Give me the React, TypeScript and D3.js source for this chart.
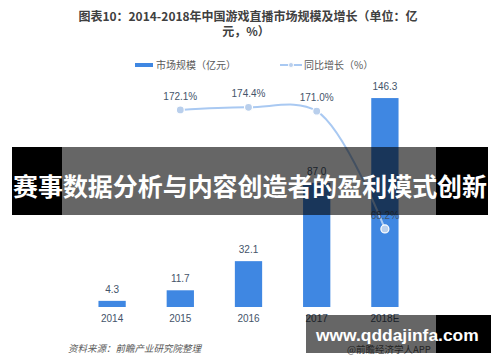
import React from "react";
import * as d3 from "d3";

const years = ["2014", "2015", "2016", "2017", "2018E"];
const marketSize = [4.3, 11.7, 32.1, 87.0, 146.3];
const growthYears = ["2015", "2016", "2017", "2018E"];
const growthRate = [172.1, 174.4, 171.0, 68.2];

const width = 500;
const height = 362;
const cjk = "'Noto Sans CJK SC', 'Noto Sans', sans-serif";

export default function App() {
  const x = d3.scaleBand().domain(years).range([78, 419]).paddingInner(0.6).paddingOuter(0.3);
  const y = d3.scaleLinear().domain([0, 160]).range([307, 78.5]);
  const yRate = d3.scaleLinear().domain([0, 200]).range([307, 78]);
  const cx = (d: string) => (x(d) ?? 0) + x.bandwidth() / 2;

  const pts = growthYears.map((d, i) => ({ year: d, v: growthRate[i] }));
  const line = d3
    .line<{ year: string; v: number }>()
    .x((d) => cx(d.year))
    .y((d) => yRate(d.v))
    .curve(d3.curveCatmullRom.alpha(0.5));

  return (
    <svg
      width={width}
      height={height}
      style={{ position: "absolute", left: 0, top: 0, background: "#fff" }}
    >
      <rect width={width} height={height} fill="#fff" />
      {/* title */}
      <g fontFamily={cjk} fontWeight="bold" fontSize="12" fill="#404040" textAnchor="middle">
        <text x={248} y={21}>图表10：2014-2018年中国游戏直播市场规模及增长（单位：亿</text>
        <text x={246} y={36}>元，%）</text>
      </g>

      {/* legend */}
      <g fontFamily={cjk} fontSize="10" fill="#595959">
        <rect x={135} y={63} width={18} height={4} fill="#3f87e2" />
        <text x={156} y={69}>市场规模（亿元）</text>
        <line x1={280} x2={302} y1={65} y2={65} stroke="#a9c9f2" strokeWidth={2} />
        <circle cx={291} cy={65} r={2.5} fill="#b9cfec" stroke="#fff" strokeWidth={1} />
        <text x={304} y={69}>同比增长（%）</text>
      </g>

      {/* bars */}
      <g fill="#3f87e2">
        {years.map((d, i) => (
          <rect
            key={d}
            x={x(d)}
            y={y(marketSize[i])}
            width={x.bandwidth()}
            height={y(0) - y(marketSize[i])}
          />
        ))}
      </g>
      <g fontFamily="'Liberation Sans', Arial, sans-serif" fontSize="10" fill="#44546a" textAnchor="middle">
        {years.map((d, i) => (
          <text key={d} x={cx(d)} y={y(marketSize[i]) - 8}>
            {marketSize[i].toFixed(1)}
          </text>
        ))}
        {years.map((d) => (
          <text key={"l" + d} x={cx(d)} y={322}>
            {d}
          </text>
        ))}
      </g>

      {/* growth line */}
      <path d={line(pts) ?? ""} fill="none" stroke="#a9c9f2" strokeWidth={2} />
      <g fill="#b9cfec" stroke="#fff" strokeWidth={1.2}>
        {pts.map((p) => (
          <circle key={p.year} cx={cx(p.year)} cy={yRate(p.v)} r={4} />
        ))}
      </g>
      <g fontFamily="'Liberation Sans', Arial, sans-serif" fontSize="10" fill="#44546a" textAnchor="middle">
        {pts.map((p) => (
          <text key={p.year} x={cx(p.year)} y={yRate(p.v) - 10}>
            {p.v.toFixed(1)}%
          </text>
        ))}
      </g>

      {/* source */}
      <text x={68} y={352} fontFamily={cjk} fontSize="9.5" fontStyle="italic" fill="#595959">
        资料来源：前瞻产业研究院整理
      </text>
      <text x={347} y={353} fontFamily={cjk} fontSize="9.5" fill="#595959">
        @前瞻经济学人APP
      </text>

      {/* banner overlay */}
      <rect x={12} y={147} width={50} height={68} fill="#000" />
      <rect x={62} y={147} width={374} height={68} fill="#000" fillOpacity={0.6} />
      <rect x={436} y={147} width={52} height={68} fill="#000" />
      <text
        x={250}
        y={196}
        textAnchor="middle"
        fontFamily={cjk}
        fontWeight="bold"
        fontSize="25"
        fill="#fff"
        textLength={474}
        lengthAdjust="spacingAndGlyphs"
      >
        赛事数据分析与内容创造者的盈利模式创新
      </text>

      {/* url overlay */}
      <rect x={306} y={315} width={130} height={38} fill="#000" fillOpacity={0.6} />
      <rect x={436} y={315} width={55} height={38} fill="#000" />
      <text
        x={316}
        y={341}
        fontFamily="'Liberation Sans', Arial, sans-serif"
        fontWeight="bold"
        fontSize="17.4"
        fill="#fff"
      >
        www.qddajinfa.com
      </text>
    </svg>
  );
}
